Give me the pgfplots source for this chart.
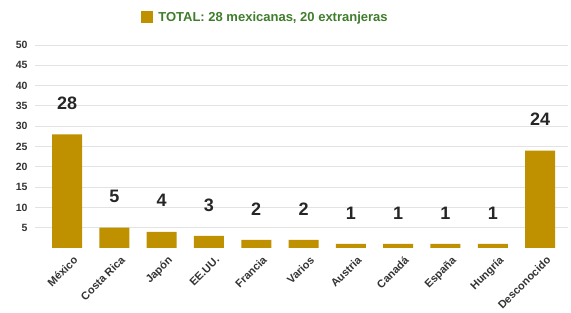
\documentclass[border=0pt]{standalone}
\usepackage{fontspec}
\setmainfont{Liberation Sans}
\usepackage{pgfplots}
\pgfplotsset{compat=1.18}
\definecolor{bargold}{HTML}{BF9000}
\definecolor{legtext}{HTML}{3F7D2C}
\definecolor{labgray}{HTML}{333333}
\begin{document}
\begin{tikzpicture}[x=1pt,y=1pt]
\path[use as bounding box] (0,0) rectangle (571,313);
\begin{axis}[
  at={(35pt,65pt)}, anchor=south west,
  scale only axis, width=533pt, height=203pt,
  xmin=-0.677, xmax=10.59, ymin=0, ymax=50,
  axis line style={draw=none},
  major tick style={draw=none},
  ybar, bar width=30pt,
  ytick={5,10,...,50},
  ymajorgrids, grid style={color=gray!22, line width=0.8pt},
  xtick={0,...,10},
  xticklabels={México,Costa Rica,Japón,EE.UU.,Francia,Varios,Austria,Canadá,España,Hungría,Desconocido},
  xticklabel style={rotate=45, anchor=north east, font=\bfseries\fontsize{11}{12}\selectfont, text=labgray, inner sep=1pt, xshift=3pt, yshift=-5pt},
  yticklabel style={font=\bfseries\fontsize{10.5}{11}\selectfont, text=labgray, xshift=-4pt},
  /pgf/number format/assume math mode=true,
  legend style={at={(0.4325,1.133)}, anchor=center, draw=none, fill=none,
    font=\bfseries\fontsize{13}{13}\selectfont, text=legtext},
  legend image code/.code={\fill[bargold] (0pt,-5pt) rectangle (12pt,7pt); \path (15pt,0pt);},
]
\addplot[fill=bargold, draw=none,
  nodes near coords,
  nodes near coords style={font=\bfseries\fontsize{18}{18}\selectfont, text=black!85, anchor=center, yshift=31pt}]
  coordinates {(0,28) (1,5) (2,4) (3,3) (4,2) (5,2) (6,1) (7,1) (8,1) (9,1) (10,24)};
\addlegendentry{TOTAL: 28 mexicanas, 20 extranjeras}
\end{axis}
\end{tikzpicture}
\end{document}
